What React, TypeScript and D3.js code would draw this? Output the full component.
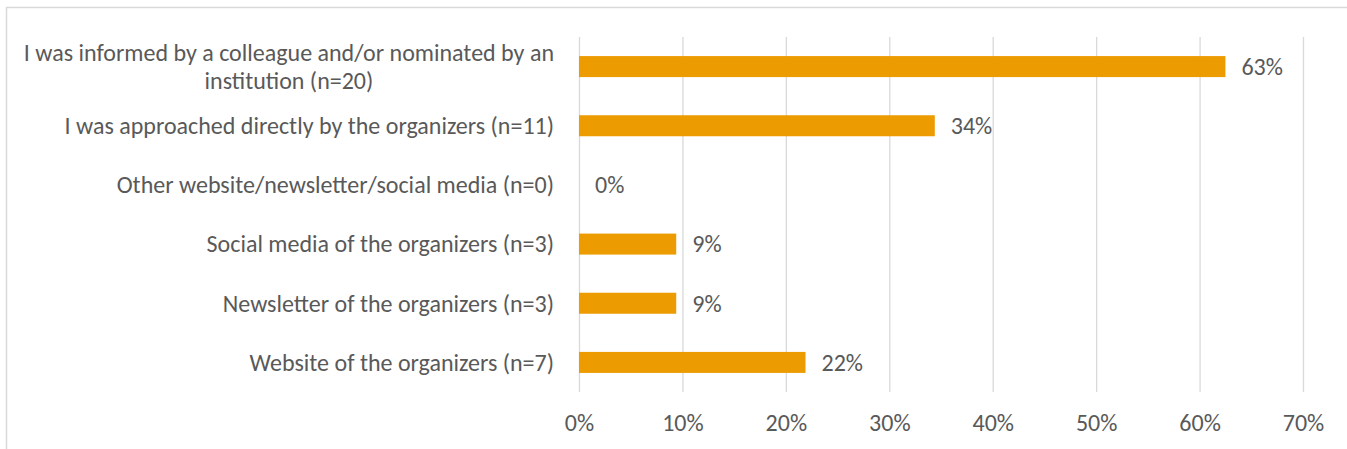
import { useEffect, useRef } from 'react';
import * as d3 from 'd3';

// survey answers, top to bottom as in the chart
const categories = [
  'I was informed by a colleague and/or nominated by an institution (n=20)',
  'I was approached directly by the organizers (n=11)',
  'Other website/newsletter/social media (n=0)',
  'Social media of the organizers (n=3)',
  'Newsletter of the organizers (n=3)',
  'Website of the organizers (n=7)',
];
const shares = [0.625, 0.344, 0, 0.094, 0.094, 0.219];
const shareLabels = ['63%', '34%', '0%', '9%', '9%', '22%'];
const xTicks = [0, 0.1, 0.2, 0.3, 0.4, 0.5, 0.6, 0.7];

const WIDTH = 1347;
const HEIGHT = 449;
const FONT = 'Carlito, Calibri, Lato, sans-serif';
const FONT_SIZE = '24px';
const TEXT_COLOR = '#595959';
const GRID_COLOR = '#d9d9d9';
const BAR_COLOR = '#ec9b00';

// wraps a category label and centres the lines inside a right-aligned block
function wrapLabels(sel: d3.Selection<SVGTextElement, string, SVGGElement, unknown>, maxWidth: number, right: number) {
  sel.each(function () {
    const text = d3.select(this);
    const words = text.text().split(/\s+/);
    text.text(null);
    const probe = text.append('tspan');
    const lines: string[] = [];
    let line: string[] = [];
    words.forEach(w => {
      line.push(w);
      probe.text(line.join(' '));
      if (probe.node()!.getComputedTextLength() > maxWidth && line.length > 1) {
        line.pop();
        lines.push(line.join(' '));
        line = [w];
      }
    });
    lines.push(line.join(' '));

    const widths = lines.map(l => {
      probe.text(l);
      return probe.node()!.getComputedTextLength();
    });
    probe.remove();
    const blockW = d3.max(widths) ?? 0;
    const lineH = 1.2; // em
    const first = -((lines.length - 1) * lineH) / 2;

    lines.forEach((l, i) => {
      text.append('tspan')
        .attr('x', right - blockW / 2)
        .attr('dy', i === 0 ? `${first + 0.35}em` : `${lineH}em`)
        .text(l);
    });
    text.attr('text-anchor', 'middle');
  });
}

export default function App() {
  const ref = useRef<SVGSVGElement | null>(null);

  useEffect(() => {
    if (!ref.current) return;
    const svg = d3.select(ref.current);
    svg.selectAll('*').remove();

    const margin = { top: 37, left: 579, bottom: 57, right: 44 };
    const plotW = WIDTH - margin.left - margin.right;
    const plotH = HEIGHT - margin.top - margin.bottom;

    // chart frame (its right and bottom edges fall outside the picture)
    svg.append('path')
      .attr('d', `M6.5,${HEIGHT + 5} V7.5 H${WIDTH + 5}`)
      .attr('fill', 'none')
      .attr('stroke', GRID_COLOR)
      .attr('stroke-width', 1.5);

    const x = d3.scaleLinear().domain([0, 0.7]).range([0, plotW]);
    const y = d3.scaleBand<string>()
      .domain(categories)
      .range([0, plotH])
      .paddingInner(0.645)
      .paddingOuter(0.3225);

    const g = svg.append('g').attr('transform', `translate(${margin.left},${margin.top})`);

    // vertical gridlines + tick labels
    const xAxis = g.append('g')
      .attr('transform', `translate(0,${plotH})`)
      .call(d3.axisBottom(x).tickValues(xTicks).tickFormat(d3.format('.0%')).tickSize(-plotH).tickSizeOuter(0));
    xAxis.select('.domain').remove();
    xAxis.selectAll('.tick line').attr('stroke', GRID_COLOR).attr('stroke-width', 1.3);
    xAxis.selectAll('.tick text')
      .attr('y', 31)
      .attr('dy', '0.35em')
      .attr('fill', TEXT_COLOR)
      .style('font-family', FONT)
      .style('font-size', FONT_SIZE);

    // bars
    g.selectAll('rect.bar')
      .data(shares)
      .join('rect')
      .attr('class', 'bar')
      .attr('x', x(0))
      .attr('y', (_, i) => y(categories[i])!)
      .attr('width', d => x(d) - x(0))
      .attr('height', y.bandwidth())
      .attr('fill', BAR_COLOR);

    // value labels
    g.selectAll('text.value')
      .data(shares)
      .join('text')
      .attr('class', 'value')
      .attr('x', d => x(d) + 16)
      .attr('y', (_, i) => y(categories[i])! + y.bandwidth() / 2)
      .attr('dy', '0.35em')
      .attr('fill', TEXT_COLOR)
      .style('font-family', FONT)
      .style('font-size', FONT_SIZE)
      .text((_, i) => shareLabels[i]);

    // category labels
    const labels = g.append('g')
      .selectAll<SVGTextElement, string>('text')
      .data(categories)
      .join('text')
      .attr('y', d => y(d)! + y.bandwidth() / 2)
      .attr('fill', TEXT_COLOR)
      .style('font-family', FONT)
      .style('font-size', FONT_SIZE)
      .text(d => d);
    wrapLabels(labels as any, 545, -25);
  }, []);

  return (
    <svg
      ref={ref}
      width={WIDTH}
      height={HEIGHT}
      style={{ position: 'absolute', left: 0, top: 0, background: '#fff', display: 'block' }}
    />
  );
}
